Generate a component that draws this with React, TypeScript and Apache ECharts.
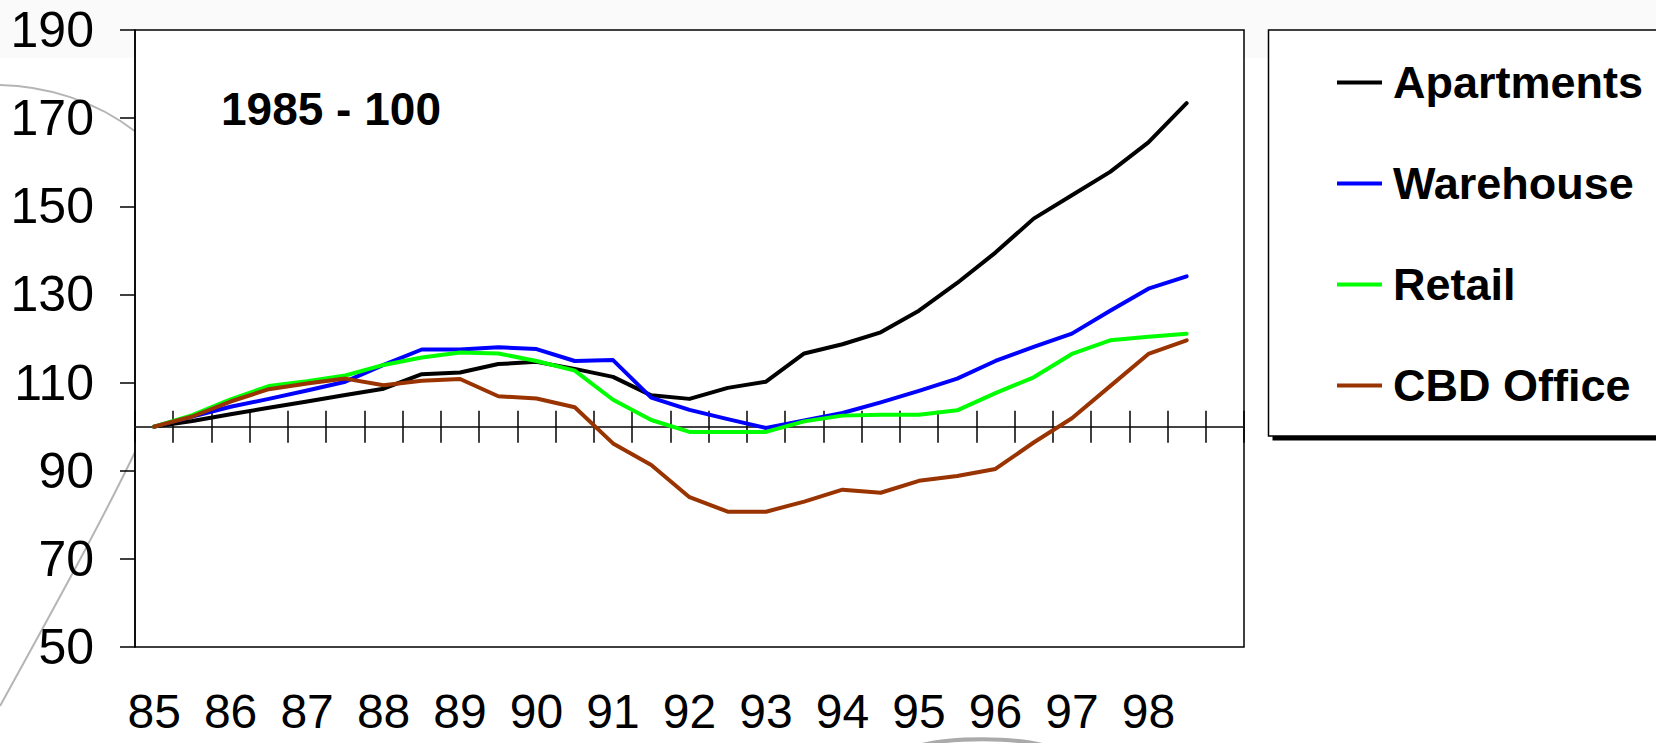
import React, { useEffect, useRef } from 'react';
import * as echarts from 'echarts';

// Half-yearly periods on the category axis (last slot stays empty)
const periods = [
  '85 H1', '85 H2', '86 H1', '86 H2', '87 H1', '87 H2', '88 H1', '88 H2',
  '89 H1', '89 H2', '90 H1', '90 H2', '91 H1', '91 H2', '92 H1', '92 H2',
  '93 H1', '93 H2', '94 H1', '94 H2', '95 H1', '95 H2', '96 H1', '96 H2',
  '97 H1', '97 H2', '98 H1', '98 H2', '99 H1',
];

// Year labels shown under the first half of each year
const yearLabels = ['85', '86', '87', '88', '89', '90', '91', '92', '93', '94', '95', '96', '97', '98'];

// Index values, 1985 = 100
const apartments = [
  100, 101.3, 102.8, 104.3, 105.7, 107.2, 108.6, 111.9, 112.3, 114.2, 114.7, 113.1, 111.3, 107.1,
  106.3, 108.8, 110.2, 116.6, 118.7, 121.4, 126.3, 132.6, 139.5, 147.2, 152.5, 157.8, 164.5, 173.4,
];
const warehouse = [
  100, 102.3, 104.5, 106.3, 108.2, 110.2, 114.0, 117.5, 117.5, 118.0, 117.6, 114.9, 115.1, 106.6,
  103.8, 101.7, 99.7, 101.4, 103.1, 105.5, 108.1, 110.9, 114.9, 118.1, 121.1, 126.3, 131.3, 134.1,
];
const retail = [
  100, 102.6, 106.2, 109.2, 110.3, 111.6, 114.0, 115.7, 116.8, 116.6, 114.9, 112.7, 106.1, 101.5,
  98.8, 98.8, 98.8, 101.2, 102.5, 102.7, 102.7, 103.7, 107.6, 111.2, 116.5, 119.6, 120.4, 121.1,
];
const cbdOffice = [
  100, 102.3, 105.7, 108.5, 109.8, 110.9, 109.4, 110.4, 110.8, 106.9, 106.4, 104.4, 96.2, 91.3,
  84.0, 80.7, 80.7, 83.0, 85.7, 85.0, 87.7, 88.8, 90.4, 96.4, 101.9, 109.2, 116.5, 119.6,
];

const seriesNames = ['Apartments', 'Warehouse', 'Retail', 'CBD Office'];
const seriesColors = ['#000000', '#0000ff', '#00ff00', '#993300'];
const seriesData = [apartments, warehouse, retail, cbdOffice];

const Y_MIN = 50;
const Y_MAX = 190;
const Y_STEP = 20;
const BASE = 100;

const FONT = '"Liberation Sans", Arial, sans-serif';

const GRID = { left: 135, top: 30, right: 412, bottom: 96 };
const HEIGHT = 743;
const WIDTH = 1656;

export default function App() {
  const ref = useRef<HTMLDivElement>(null);

  useEffect(() => {
    if (!ref.current) return;
    const chart = echarts.init(ref.current, null, { renderer: 'svg' });

    const gridHeight = HEIGHT - GRID.top - GRID.bottom;
    // move the category axis line up to the base value of 100
    const baseOffset = -((BASE - Y_MIN) / (Y_MAX - Y_MIN)) * gridHeight;

    const crossAxis = (inside: boolean, showLine: boolean) => ({
      type: 'category',
      data: periods,
      position: 'bottom',
      offset: baseOffset,
      boundaryGap: true,
      axisLine: { show: showLine, lineStyle: { color: '#444', width: 2 } },
      axisTick: { show: true, inside, length: 16, interval: 0, lineStyle: { color: '#000', width: 1.5 } },
      axisLabel: { show: false },
      splitLine: { show: false },
    });

    chart.setOption({
      animation: false,
      backgroundColor: 'transparent',
      grid: {
        ...GRID,
        show: true,
        backgroundColor: '#ffffff',
        borderColor: '#000',
        borderWidth: 1.5,
      },
      xAxis: [
        crossAxis(true, true),
        crossAxis(false, false),
        {
          type: 'category',
          data: periods,
          position: 'bottom',
          offset: 0,
          boundaryGap: true,
          axisLine: { show: false },
          axisTick: { show: false },
          axisLabel: {
            interval: 0,
            margin: 40,
            fontSize: 48,
            lineHeight: 48,
            fontFamily: FONT,
            color: '#000',
            formatter: (_v: string, i: number) => (i % 2 === 0 ? yearLabels[i / 2] ?? '' : ''),
          },
          splitLine: { show: false },
        },
      ],
      yAxis: {
        type: 'value',
        min: Y_MIN,
        max: Y_MAX,
        interval: Y_STEP,
        axisLine: { show: true, lineStyle: { color: '#000', width: 1.5 } },
        axisTick: { show: true, length: 15, lineStyle: { color: '#000', width: 1.5 } },
        axisLabel: { fontSize: 50, fontFamily: FONT, color: '#000', margin: 41 },
        splitLine: { show: false },
      },
      legend: {
        orient: 'vertical',
        left: 1337,
        top: 60,
        padding: 0,
        itemGap: 56,
        itemWidth: 45,
        itemHeight: 4,
        icon: 'rect',
        data: seriesNames,
        textStyle: {
          fontSize: 45,
          fontWeight: 'bold',
          fontFamily: FONT,
          color: '#000',
          lineHeight: 45,
          padding: [0, 0, 0, 6],
        },
      },
      graphic: [
        // background arcs of the slide template
        {
          type: 'bezierCurve',
          z: -10,
          shape: { x1: 0, y1: 85, cpx1: 45, cpy1: 86, cpx2: 95, cpy2: 100, x2: 136, y2: 132 },
          style: { stroke: '#b5b5b5', lineWidth: 2, fill: 'none' },
        },
        {
          type: 'bezierCurve',
          z: -10,
          shape: { x1: 0, y1: 706, cpx1: 50, cpy1: 615, cpx2: 100, cpy2: 525, x2: 136, y2: 450 },
          style: { stroke: '#b5b5b5', lineWidth: 2, fill: 'none' },
        },
        {
          type: 'bezierCurve',
          z: -10,
          shape: { x1: 918, y1: 746, cpx1: 950, cpy1: 737, cpx2: 1015, cpy2: 737, x2: 1046, y2: 746 },
          style: { stroke: '#aaaaaa', lineWidth: 4, fill: 'none' },
        },
        // legend frame with its drop shadow
        {
          type: 'rect',
          z: -2,
          shape: { x: 1272.5, y: 34.5, width: 500, height: 406 },
          style: { fill: '#000' },
        },
        {
          type: 'rect',
          z: -1,
          shape: { x: 1268.5, y: 30, width: 500, height: 406 },
          style: { fill: '#fff', stroke: '#000', lineWidth: 1.5 },
        },
        // index base note
        {
          type: 'text',
          left: 221,
          top: 86,
          style: {
            text: '1985 - 100',
            fontSize: 46,
            fontWeight: 'bold',
            fontFamily: FONT,
            fill: '#000',
          },
        },
      ],
      series: seriesNames.map((name, k) => ({
        name,
        type: 'line',
        xAxisIndex: 0,
        data: seriesData[k],
        symbol: 'none',
        lineStyle: { color: seriesColors[k], width: 4, cap: 'round', join: 'round' },
        itemStyle: { color: seriesColors[k] },
        z: 3 + k,
      })),
    });

    return () => chart.dispose();
  }, []);

  return (
    <div
      ref={ref}
      style={{
        position: 'fixed',
        left: 0,
        top: 0,
        width: WIDTH,
        height: HEIGHT,
        background: 'linear-gradient(#fafafa 0px, #fafafa 58px, #ffffff 58px)',
      }}
    />
  );
}
